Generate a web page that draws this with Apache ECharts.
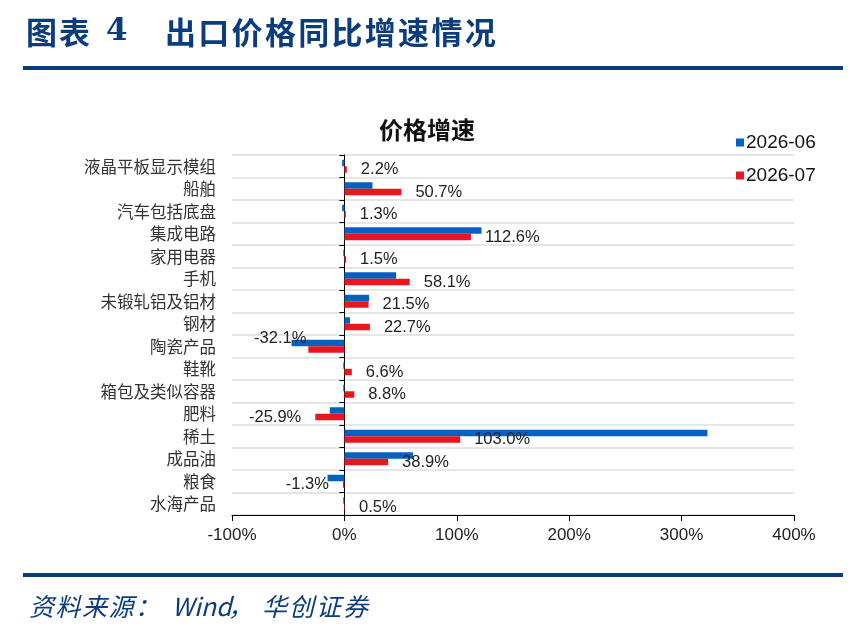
<!DOCTYPE html>
<html><head><meta charset="utf-8">
<script src="https://cdn.jsdelivr.net/npm/echarts@6/dist/echarts.min.js"></script>
<style>html,body{margin:0;padding:0;background:#fff}#c{width:864px;height:640px}</style>
</head><body><div id="c"></div>
<script>
const categories = ['液晶平板显示模组','船舶','汽车包括底盘','集成电路','家用电器','手机','未锻轧铝及铝材','钢材','陶瓷产品','鞋靴','箱包及类似容器','肥料','稀土','成品油','粮食','水海产品'];
const jun2026 = [-2, 25, -2, 122, -1, 46, 22, 5, -47, -1, -1, -13, 323, 61, -15, -1];
const jul2026 = [2.2, 50.7, 1.3, 112.6, 1.5, 58.1, 21.5, 22.7, -32.1, 6.6, 8.8, -25.9, 103.0, 38.9, -1.3, 0.5];
const seriesNames = ['2026-06','2026-07'];
const xTicks = {min:-100, max:400, interval:100};

// label style overrides (manual placement in the original)
const labelOverrides = {'陶瓷产品': {offset:[12,-11]}};

const navy = '#0b3c7d';
const chart = echarts.init(document.getElementById('c'));
const cjk = '"Noto Sans CJK SC", sans-serif';
const lat = '"Liberation Sans", Arial, sans-serif';

// lay out a string character by character with a fixed step
function spaced(str, x, y, step, font) {
  return Array.from(str).map((ch, i) => ({type:'text', left:x + i * step, top:y,
    style:{text:ch, font:font, fill:navy}}));
}

const headFont = 'bold 31px "Noto Sans CJK SC"';
const footFont = 'italic 25px "Noto Sans CJK SC"';

chart.setOption({
  animation:false,
  backgroundColor:'#fff',
  title:{text:'价格增速', left:422, top:113, textAlign:'center',
    textStyle:{fontFamily:cjk, fontSize:24, fontWeight:'bold', color:'#111'}},
  legend:{orient:'vertical', left:731, top:128, itemWidth:8, itemHeight:8, itemGap:14,
    icon:'rect', data:seriesNames,
    textStyle:{fontFamily:lat, fontSize:19, color:'#111', padding:[0,0,0,-3]}},
  grid:{left:232, right:70, top:155, bottom:125},
  xAxis:{type:'value', min:xTicks.min, max:xTicks.max, interval:xTicks.interval,
    axisLine:{show:true, lineStyle:{color:'#000', width:1}},
    axisTick:{show:true, length:6, inside:false, lineStyle:{color:'#000'}},
    splitLine:{show:false},
    axisLabel:{formatter:'{value}%', fontFamily:lat, fontSize:17, color:'#222', margin:12}},
  yAxis:[
    {type:'category', data:categories, inverse:true,
     axisLine:{show:false, onZero:false}, axisTick:{show:false},
     splitLine:{show:true, lineStyle:{color:'#e6e6e6', width:2}},
     axisLabel:{fontFamily:cjk, fontSize:16.5, color:'#333', margin:16}},
    {type:'category', data:categories, inverse:true, position:'left',
     axisLine:{show:true, onZero:true, lineStyle:{color:'#000', width:1}},
     axisTick:{show:true, length:5, lineStyle:{color:'#000'}},
     axisLabel:{show:false}, splitLine:{show:false}}
  ],
  series:[
    {name:seriesNames[0], type:'bar', data:jun2026, barWidth:6.5, barGap:'0%',
     itemStyle:{color:'#0561c0'}},
    {name:seriesNames[1], type:'bar', barWidth:6.5, barGap:'0%',
     itemStyle:{color:'#e8161f'},
     data:jul2026.map((v, i) => ({value:v,
       label:Object.assign({position: v < 0 ? 'left' : 'right'}, labelOverrides[categories[i]] || {})})),
     label:{show:true, distance:14, fontFamily:lat, fontSize:16.5, color:'#222',
       formatter:p => p.value.toFixed(1) + '%'}}
  ],
  graphic:[].concat(
    spaced('图表', 26, 17, 33, headFont),
    [{type:'text', left:106, top:16, style:{text:'4', font:'bold 31px "DejaVu Serif", serif', fill:navy}}],
    spaced('出口价格同比增速情况', 165, 17, 33.3, headFont),
    [{type:'rect', shape:{x:23, y:66, width:820, height:4}, style:{fill:navy}},
     {type:'rect', shape:{x:23, y:573, width:820, height:4}, style:{fill:navy}}],
    spaced('资料来源：', 29, 594, 26.5, footFont),
    [{type:'text', left:172, top:594, style:{text:'Wind', font:footFont, fill:navy}}],
    spaced('，', 228, 594, 25, footFont),
    spaced('华创证券', 262, 594, 27, footFont)
  )
});
</script></body></html>
